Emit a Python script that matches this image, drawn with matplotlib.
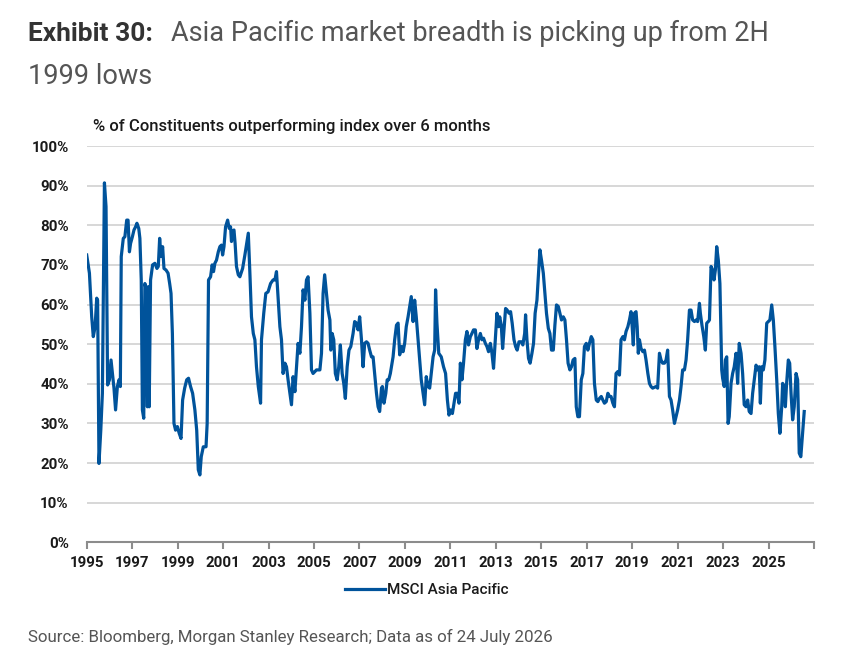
import matplotlib
matplotlib.use("Agg")
import matplotlib.pyplot as plt
import numpy as np

# values (decimal year, % of constituents)
years_1995_2001 = [1995.00, 1995.12, 1995.22, 1995.29, 1995.37, 1995.44, 1995.48, 1995.54, 1995.62, 1995.69,
                   1995.78, 1995.85, 1995.92, 1996.00, 1996.07, 1996.13, 1996.20, 1996.27, 1996.35, 1996.42,
                   1996.48, 1996.52, 1996.61, 1996.68, 1996.76, 1996.82, 1996.88, 1996.93, 1997.01, 1997.08,
                   1997.15, 1997.21, 1997.29, 1997.34, 1997.40, 1997.45, 1997.51, 1997.56, 1997.62, 1997.67,
                   1997.71, 1997.75, 1997.81, 1997.90, 1998.00, 1998.09, 1998.15, 1998.21, 1998.27, 1998.34,
                   1998.40, 1998.49, 1998.58, 1998.65, 1998.71, 1998.77, 1998.84, 1998.91, 1998.99, 1999.07,
                   1999.15, 1999.22, 1999.31, 1999.40, 1999.48, 1999.57, 1999.66, 1999.76, 1999.84, 1999.91,
                   1999.98, 2000.04, 2000.13, 2000.25, 2000.30, 2000.36, 2000.45, 2000.52, 2000.58, 2000.64,
                   2000.71, 2000.79, 2000.86, 2000.93, 2000.98, 2001.04, 2001.11, 2001.20, 2001.27, 2001.33,
                   2001.37, 2001.42, 2001.48, 2001.53, 2001.59, 2001.67]
vals_1995_2001 = [72.5, 67.9, 56.9, 51.9, 54.4, 61.6, 61.1, 19.9, 28.3, 37.6,
                  90.7, 84.7, 39.7, 41.0, 46.0, 42.6, 38.9, 33.4, 39.3, 41.0,
                  39.3, 72.1, 76.7, 77.1, 81.3, 81.3, 73.3, 75.4, 77.1, 78.8,
                  79.6, 80.5, 79.2, 76.7, 66.2, 33.4, 31.3, 65.3, 63.7, 34.2,
                  64.5, 34.2, 66.2, 70.0, 70.4, 69.1, 69.6, 76.7, 72.1, 74.6,
                  69.1, 68.7, 67.9, 65.3, 62.8, 52.7, 30.0, 28.3, 29.2, 27.5,
                  26.2, 35.9, 38.9, 41.0, 41.4, 39.3, 37.6, 33.4, 28.3, 18.3,
                  17.0, 21.6, 24.1, 24.1, 30.0, 66.2, 67.0, 70.0, 68.3, 70.4,
                  71.2, 73.3, 74.6, 75.0, 72.5, 74.6, 79.6, 81.3, 79.2, 79.6,
                  75.9, 78.4, 78.8, 75.4, 69.6, 67.5]

years_2001_2009 = [2001.74, 2001.86, 2001.96, 2002.11, 2002.18, 2002.25, 2002.33, 2002.40, 2002.47, 2002.55,
                   2002.65, 2002.69, 2002.79, 2002.88, 2002.98, 2003.09, 2003.20, 2003.28, 2003.35, 2003.42,
                   2003.50, 2003.57, 2003.64, 2003.72, 2003.79, 2003.86, 2003.94, 2004.01, 2004.08, 2004.16,
                   2004.23, 2004.30, 2004.38, 2004.45, 2004.52, 2004.60, 2004.67, 2004.74, 2004.82, 2004.89,
                   2004.96, 2005.11, 2005.26, 2005.33, 2005.40, 2005.47, 2005.55, 2005.62, 2005.70, 2005.74,
                   2005.80, 2005.87, 2005.94, 2006.02, 2006.09, 2006.16, 2006.24, 2006.31, 2006.38, 2006.46,
                   2006.54, 2006.62, 2006.72, 2006.79, 2006.87, 2006.94, 2007.01, 2007.09, 2007.16, 2007.23,
                   2007.31, 2007.38, 2007.45, 2007.53, 2007.60, 2007.67, 2007.75, 2007.82, 2007.89, 2007.97,
                   2008.01, 2008.08, 2008.16, 2008.22, 2008.29, 2008.36, 2008.48, 2008.55, 2008.63, 2008.70,
                   2008.77, 2008.85, 2008.92, 2008.99, 2009.06, 2009.14, 2009.21, 2009.28, 2009.36, 2009.43,
                   2009.50, 2009.58, 2009.65, 2009.72, 2009.80, 2009.87]
vals_2001_2009 = [67.0, 69.1, 72.5, 78.0, 67.9, 56.9, 52.7, 51.1, 44.3, 39.3,
                  35.1, 51.1, 57.8, 62.8, 63.2, 65.3, 66.2, 66.2, 68.3, 62.0,
                  54.4, 51.1, 42.6, 45.2, 44.3, 41.0, 37.6, 34.7, 41.8, 38.0,
                  44.3, 50.2, 47.7, 54.4, 63.7, 61.1, 66.2, 67.0, 57.8, 43.5,
                  42.6, 43.5, 43.5, 47.7, 62.8, 67.5, 62.8, 58.6, 56.1, 48.5,
                  52.7, 51.1, 42.6, 41.0, 44.3, 49.8, 42.6, 40.1, 36.3, 44.3,
                  48.5, 49.4, 52.7, 55.7, 55.3, 53.6, 56.9, 51.1, 44.3, 50.2,
                  50.6, 50.2, 48.5, 46.8, 46.8, 42.6, 37.6, 34.2, 33.0, 38.9,
                  39.3, 35.1, 37.6, 41.0, 41.0, 42.6, 46.8, 51.1, 54.8, 55.3,
                  47.3, 49.4, 48.1, 50.2, 54.4, 56.9, 59.5, 62.0, 55.7, 61.1,
                  56.9, 51.1, 46.0, 41.0, 37.6, 34.7]

years_2009_2017 = [2009.94, 2010.02, 2010.09, 2010.16, 2010.24, 2010.31, 2010.35, 2010.41, 2010.49, 2010.60,
                   2010.70, 2010.79, 2010.87, 2010.94, 2011.01, 2011.09, 2011.16, 2011.23, 2011.31, 2011.38,
                   2011.44, 2011.51, 2011.58, 2011.66, 2011.73, 2011.80, 2011.88, 2011.95, 2012.02, 2012.10,
                   2012.17, 2012.24, 2012.32, 2012.39, 2012.46, 2012.54, 2012.61, 2012.68, 2012.76, 2012.83,
                   2012.90, 2012.98, 2013.05, 2013.12, 2013.17, 2013.24, 2013.30, 2013.37, 2013.43, 2013.50,
                   2013.58, 2013.65, 2013.72, 2013.80, 2013.87, 2013.94, 2014.02, 2014.12, 2014.19, 2014.27,
                   2014.31, 2014.37, 2014.44, 2014.51, 2014.59, 2014.66, 2014.73, 2014.81, 2014.87, 2014.94,
                   2015.01, 2015.09, 2015.16, 2015.23, 2015.31, 2015.38, 2015.45, 2015.53, 2015.60, 2015.67,
                   2015.75, 2015.82, 2015.89, 2015.97, 2016.04, 2016.11, 2016.18, 2016.26, 2016.33, 2016.40,
                   2016.48, 2016.54, 2016.61, 2016.68, 2016.76, 2016.83, 2016.90, 2016.98, 2017.05, 2017.12,
                   2017.20, 2017.27, 2017.34, 2017.42, 2017.49, 2017.56, 2017.64, 2017.71, 2017.78, 2017.86,
                   2017.93]
vals_2009_2017 = [41.8, 39.3, 38.9, 42.6, 46.8, 48.5, 63.7, 55.3, 47.7, 46.8,
                  44.3, 42.6, 35.9, 32.1, 33.4, 32.5, 35.1, 37.6, 37.6, 35.1,
                  45.2, 41.0, 45.2, 51.1, 53.2, 49.8, 51.9, 52.7, 53.6, 53.6,
                  48.9, 51.1, 52.7, 51.1, 51.5, 50.2, 49.4, 48.1, 50.2, 47.7,
                  43.9, 51.1, 57.8, 54.4, 56.9, 54.8, 48.9, 54.4, 59.0, 58.6,
                  57.8, 58.2, 55.3, 51.1, 49.4, 48.5, 50.6, 50.6, 49.8, 52.7,
                  57.4, 51.1, 46.4, 45.2, 47.7, 50.2, 57.8, 61.1, 67.0, 73.8,
                  71.2, 67.9, 62.8, 57.8, 54.0, 52.7, 48.5, 48.5, 54.8, 59.9,
                  59.5, 57.8, 56.1, 56.9, 56.1, 51.1, 45.2, 43.5, 44.3, 46.0,
                  46.4, 34.2, 31.7, 31.7, 41.0, 42.6, 49.4, 50.2, 48.5, 50.2,
                  51.9, 51.1, 40.1, 35.9, 35.5, 36.3, 36.8, 35.9, 35.1, 35.5,
                  37.6]

years_2018_2026 = [2018.00, 2018.07, 2018.15, 2018.22, 2018.29, 2018.37, 2018.44, 2018.51, 2018.59, 2018.66,
                   2018.73, 2018.81, 2018.88, 2018.95, 2019.00, 2019.05, 2019.10, 2019.17, 2019.22, 2019.27,
                   2019.32, 2019.39, 2019.47, 2019.54, 2019.61, 2019.69, 2019.76, 2019.83, 2019.90, 2020.05,
                   2020.12, 2020.20, 2020.27, 2020.34, 2020.42, 2020.49, 2020.56, 2020.64, 2020.71, 2020.78,
                   2020.86, 2020.93, 2021.00, 2021.08, 2021.15, 2021.22, 2021.30, 2021.37, 2021.44, 2021.52,
                   2021.59, 2021.66, 2021.74, 2021.81, 2021.88, 2021.96, 2022.00, 2022.07, 2022.15, 2022.22,
                   2022.28, 2022.35, 2022.40, 2022.47, 2022.54, 2022.60, 2022.66, 2022.72, 2022.79, 2022.86,
                   2022.94, 2022.98, 2023.05, 2023.10, 2023.16, 2023.22, 2023.27, 2023.35, 2023.42, 2023.49,
                   2023.57, 2023.64, 2023.71, 2023.79, 2023.86, 2023.93, 2024.01, 2024.08, 2024.15, 2024.23,
                   2024.30, 2024.37, 2024.45, 2024.52, 2024.59, 2024.64, 2024.70, 2024.77, 2024.84, 2024.92,
                   2024.99, 2025.06, 2025.14, 2025.21, 2025.28, 2025.36, 2025.43, 2025.50, 2025.58, 2025.62,
                   2025.69, 2025.74, 2025.79, 2025.87, 2025.93, 2025.99, 2026.06, 2026.13, 2026.21, 2026.28,
                   2026.35, 2026.42, 2026.50, 2026.57]
vals_2018_2026 = [36.8, 36.8, 35.1, 34.2, 42.6, 43.1, 42.2, 51.1, 51.9, 51.1,
                  53.2, 54.4, 56.1, 58.2, 54.4, 49.8, 57.8, 58.2, 54.4, 47.7,
                  51.1, 48.9, 48.1, 48.5, 46.0, 42.6, 40.1, 39.3, 38.9, 39.3,
                  38.9, 47.7, 46.0, 45.2, 45.2, 46.0, 48.5, 36.8, 35.9, 33.4,
                  30.0, 31.7, 33.4, 35.9, 39.3, 43.5, 43.5, 46.0, 51.1, 58.6,
                  58.6, 56.1, 55.7, 56.1, 55.7, 60.3, 57.8, 54.8, 51.9, 48.5,
                  55.3, 55.7, 56.1, 69.6, 68.7, 66.2, 68.7, 74.6, 71.2, 65.3,
                  43.5, 41.4, 39.3, 46.0, 46.8, 30.0, 31.7, 40.1, 42.6, 44.3,
                  47.7, 40.1, 50.2, 47.7, 42.6, 34.7, 34.2, 35.9, 33.0, 32.5,
                  37.6, 41.0, 44.7, 43.5, 44.3, 35.1, 44.3, 43.5, 46.0, 55.3,
                  55.7, 56.1, 59.9, 56.1, 49.4, 41.0, 32.5, 27.5, 34.2, 40.1,
                  39.3, 34.2, 39.7, 46.0, 45.2, 37.6, 30.9, 34.2, 42.6, 41.0,
                  22.5, 21.6, 27.5, 33.0]

years = np.array(years_1995_2001 + years_2001_2009 + years_2009_2017 + years_2018_2026)
values = np.array(vals_1995_2001 + vals_2001_2009 + vals_2009_2017 + vals_2018_2026)

tick_years = list(range(1995, 2028, 2))
tick_labels = [str(y) for y in tick_years[:-1]] + [""]
y_ticks = list(range(0, 101, 10))

BLUE = "#00539b"
FONT = ["Roboto", "DejaVu Sans"]
plt.rcParams["font.family"] = FONT

W, H = 865, 660
fig = plt.figure(figsize=(W / 100, H / 100), dpi=100)
ax = fig.add_axes([86.7 / W, 1 - 542.3 / H, (814 - 86.7) / W, (542.3 - 146) / H])

ax.plot(years, values, color=BLUE, lw=2.3, label="MSCI Asia Pacific", solid_joinstyle="round")

ax.set_xlim(1995, 2027)
ax.set_ylim(0, 100)
ax.set_yticks(y_ticks)
ax.set_yticklabels([f"{v}%" for v in y_ticks])
ax.set_xticks(tick_years)
ax.set_xticklabels(tick_labels)
ax.grid(axis="y", color="#d4d4d4", lw=1.3)
ax.set_axisbelow(True)
for s in ["top", "right", "left"]:
    ax.spines[s].set_visible(False)
ax.spines["bottom"].set_color("#8c8c8c")
ax.spines["bottom"].set_linewidth(1.5)
ax.spines["bottom"].set_zorder(3)
ax.tick_params(axis="y", length=0, pad=13, labelsize=10.8, labelcolor="#1a1a1a")
ax.tick_params(axis="x", length=5, width=1.5, color="#8c8c8c", pad=5, labelsize=10.8, labelcolor="#1a1a1a")
for lab in ax.get_xticklabels() + ax.get_yticklabels():
    lab.set_fontweight("bold")

# titles
fig.text(28 / W, 1 - 41 / H, "Exhibit 30:", fontsize=19, fontweight="bold", color="#333333", va="baseline")
fig.text(171 / W, 1 - 41 / H, "Asia Pacific market breadth is picking up from 2H",
         fontsize=19.5, fontweight="normal", color="#555555", va="baseline")
fig.text(28 / W, 1 - 84 / H, "1999 lows", fontsize=19.5, fontweight="normal", color="#555555", va="baseline")
fig.text(93 / W, 1 - 127 / H, "% of Constituents outperforming index over 6 months",
         fontsize=12, fontweight="medium", color="#1a1a1a", va="center")

leg = fig.legend(loc="center", bbox_to_anchor=(427 / W, 1 - 590 / H), frameon=False,
                 handlelength=2.6, handletextpad=0.15, fontsize=11)
for t in leg.get_texts():
    t.set_fontweight("medium")
    t.set_color("#1a1a1a")

fig.text(28 / W, 1 - 637 / H, "Source: Bloomberg, Morgan Stanley Research; Data as of 24 July 2026",
         fontsize=12.2, fontweight="normal", color="#555555", va="center")

fig.savefig("out.png", dpi=100)
